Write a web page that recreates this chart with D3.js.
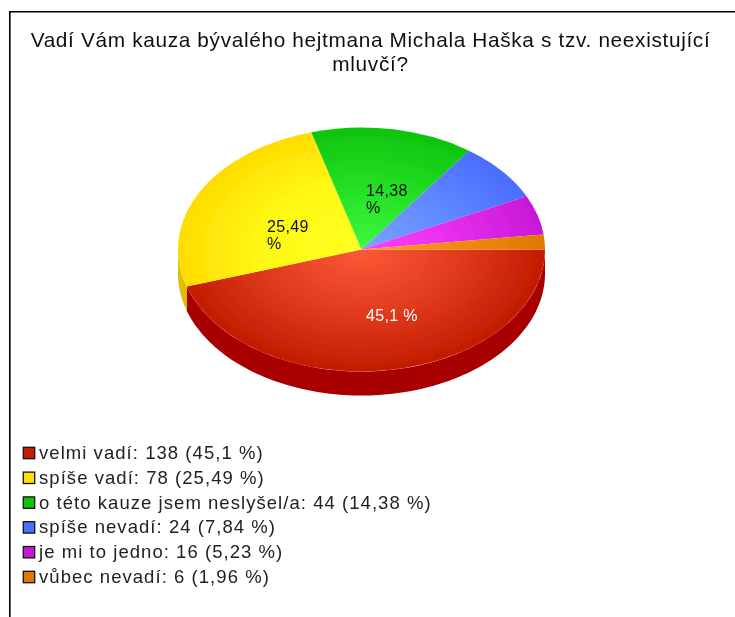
<!DOCTYPE html>
<html><head><meta charset="utf-8">
<script src="https://cdn.jsdelivr.net/npm/d3@7"></script>
<style>html,body{margin:0;padding:0;background:#fff}svg{display:block}text{font-family:"Liberation Sans",Arial,sans-serif}</style>
</head><body><svg id="c" width="735" height="617"></svg>
<script>
const titleLines = ["Vadí Vám kauza bývalého hejtmana Michala Haška s tzv. neexistující", "mluvčí?"];
const categories = ["velmi vadí", "spíše vadí", "o této kauze jsem neslyšel/a", "spíše nevadí", "je mi to jedno", "vůbec nevadí"];
const counts = [138, 78, 44, 24, 16, 6];
const percentLabels = ["45,1", "25,49", "14,38", "7,84", "5,23", "1,96"];
const centerColors = ["#fb5a38", "#ffff22", "#3ef93e", "#7ba2ff", "#ff40ff", "#ff9c22"];
const midColors = ["#e0391c", "#fff814", "#22de22", "#5f88ff", "#e42ceb", "#f08a10"];
const edgeColors = ["#c21c00", "#ffdc00", "#0ec40e", "#4a6cff", "#c818d8", "#e07800"];
const wallColors = ["#a80000", "#dcc000", "#0a9a0a", "#3050c0", "#9010a0", "#b06000"];
const legendColors = ["#c41e00", "#ffdf00", "#0fc40f", "#4a70ff", "#c818d8", "#e07800"];

const svg = d3.select("#c");
const W = 735, H = 617, cx = 361.5, cy = 249.5, rx = 183.5, ry = 122, depth = 24;

const defs = svg.append("defs");
defs.append("filter").attr("id", "soft").attr("x", 0).attr("y", 0).attr("width", 1).attr("height", 1)
  .append("feGaussianBlur").attr("stdDeviation", 0.45);
const root = svg.append("g").attr("filter", "url(#soft)");
root.append("rect").attr("width", W).attr("height", H).attr("fill", "#fff");

root.append("path").attr("d", `M9.8 ${H}V11.8H${W}`).attr("fill", "none").attr("stroke", "#000").attr("stroke-width", 1.6);

root.selectAll("text.title").data(titleLines).join("text").attr("class", "title")
  .attr("x", 370.5).attr("y", (d, i) => 47 + i * 24).attr("text-anchor", "middle")
  .attr("font-size", 20.8).attr("letter-spacing", 0.66).attr("fill", "#111").text(d => d);

const pie = d3.pie().sort(null).startAngle(Math.PI / 2).endAngle(Math.PI * 2.5);
const arcs = pie(counts);
const arc = d3.arc().innerRadius(0).outerRadius(rx);
const sy = ry / rx;

arcs.forEach((a, i) => {
  const g = defs.append("radialGradient").attr("id", "g" + i).attr("gradientUnits", "userSpaceOnUse")
    .attr("cx", 0).attr("cy", 0).attr("r", rx);
  g.append("stop").attr("offset", 0).attr("stop-color", centerColors[i]);
  g.append("stop").attr("offset", 0.55).attr("stop-color", midColors[i]);
  g.append("stop").attr("offset", 1).attr("stop-color", edgeColors[i]);
});

// side wall: visible only where the rim faces the viewer (d3 angle PI/2..3PI/2)
const wall = d3.area().x(t => cx + rx * Math.sin(t))
  .y0(t => cy - ry * Math.cos(t)).y1(t => cy - ry * Math.cos(t) + depth);
arcs.forEach((a, i) => {
  const s = Math.max(a.startAngle, Math.PI / 2), e = Math.min(a.endAngle, Math.PI * 1.5);
  if (e <= s) return;
  root.append("path").datum(d3.range(0, 101).map(k => s + (e - s) * k / 100))
    .attr("d", wall).attr("fill", wallColors[i]);
});

root.append("g").attr("transform", `translate(${cx},${cy}) scale(1,${sy})`)
  .selectAll("path").data(arcs).join("path")
  .attr("d", arc).attr("fill", (d, i) => `url(#g${i})`);

// slice labels (only the three largest are labelled)
const labelPos = [[366, 321, "#fff"], [267, 232, "#111"], [366, 196, "#111"]];
labelPos.forEach((p, i) => {
  const parts = i === 0 ? [percentLabels[0] + " %"] : [percentLabels[i], "%"];
  parts.forEach((t, j) => root.append("text").attr("x", p[0]).attr("y", p[1] + j * 17)
    .attr("font-size", 16).attr("letter-spacing", 0.35).attr("fill", p[2]).text(t));
});

// legend
const legendY = d3.scalePoint().domain(d3.range(categories.length)).range([453, 577]);
const lg = root.append("g").selectAll("g").data(categories).join("g")
  .attr("transform", (d, i) => `translate(0,${legendY(i)})`);
lg.append("rect").attr("x", 23.3).attr("y", -5.7).attr("width", 11.4).attr("height", 11.4)
  .attr("fill", (d, i) => legendColors[i]).attr("stroke", "#111").attr("stroke-width", 1.3);
lg.append("text").attr("x", 39).attr("y", 6).attr("font-size", 18.5).attr("fill", "#222").attr("letter-spacing", 1.05)
  .text((d, i) => `${d}: ${counts[i]} (${percentLabels[i]} %)`);
</script></body></html>
